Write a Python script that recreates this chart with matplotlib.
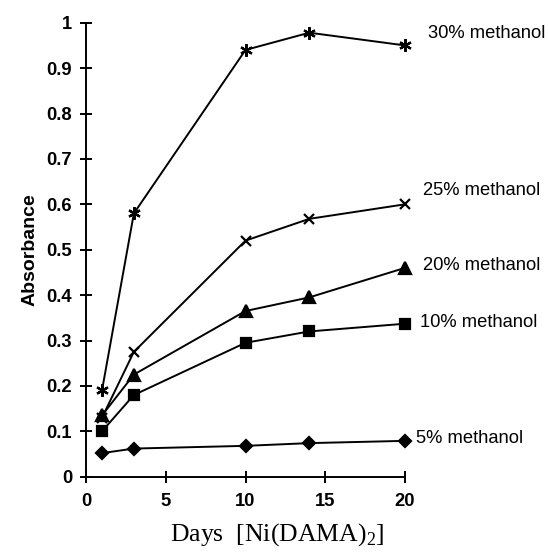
import matplotlib
matplotlib.use('Agg')
import matplotlib.pyplot as plt

plt.rcParams['font.family'] = ['Liberation Sans', 'DejaVu Sans']
plt.rcParams['mathtext.fontset'] = 'custom'
plt.rcParams['mathtext.rm'] = 'Liberation Serif'

days = [1, 3, 10, 14, 20]
meoh_30 = [0.19, 0.58, 0.94, 0.978, 0.95]
meoh_25 = [0.13, 0.275, 0.52, 0.568, 0.60]
meoh_20 = [0.135, 0.225, 0.365, 0.395, 0.46]
meoh_10 = [0.10, 0.18, 0.295, 0.32, 0.337]
meoh_5 = [0.052, 0.062, 0.068, 0.074, 0.079]

series = [
    ('30% methanol', meoh_30, (6, 2, 0), 9, 21.45, 0.977),
    ('25% methanol', meoh_25, 'x', 7, 21.15, 0.63),
    ('20% methanol', meoh_20, '^', 8, 21.15, 0.466),
    ('10% methanol', meoh_10, 's', 7, 20.95, 0.34),
    ('5% methanol', meoh_5, 'D', 6, 20.7, 0.085),
]

fig = plt.figure(figsize=(5.48, 5.54), dpi=100)
ax = fig.add_axes([0.157, 0.1395, 0.582, 0.8195])

for name, vals, mk, ms, lx, ly in series:
    ax.plot(days, vals, color='black', lw=1.4, marker=mk, ms=ms,
            mew=1.6, mec='black', mfc='black', clip_on=False)
    ax.text(lx, ly, name, fontsize=13.2, va='center', ha='left')

ax.set_xlim(0, 20)
ax.set_ylim(0, 1)
ax.set_xticks([0, 5, 10, 15, 20])
ax.set_yticks([i / 10 for i in range(11)])
ax.set_yticklabels(['0', '0.1', '0.2', '0.3', '0.4', '0.5', '0.6', '0.7', '0.8', '0.9', '1'])
for s in ['top', 'right']:
    ax.spines[s].set_visible(False)
for s in ['left', 'bottom']:
    ax.spines[s].set_linewidth(1.4)
ax.tick_params(direction='inout', length=8, width=1.4, labelsize=13.2)
ax.tick_params(axis='x', pad=8)
ax.tick_params(axis='y', pad=6)
for lab in ax.get_xticklabels() + ax.get_yticklabels():
    lab.set_fontweight('bold')

ax.set_ylabel('Absorbance', fontsize=14, fontweight='bold')
ax.yaxis.set_label_coords(-0.15, 0.5)
fig.text(277 / 548, 1 - 535 / 554, 'Days  [Ni(DAMA)$_2$]', fontsize=18.5,
         family='Liberation Serif', ha='center', va='center')

fig.savefig('out.png', dpi=100)
